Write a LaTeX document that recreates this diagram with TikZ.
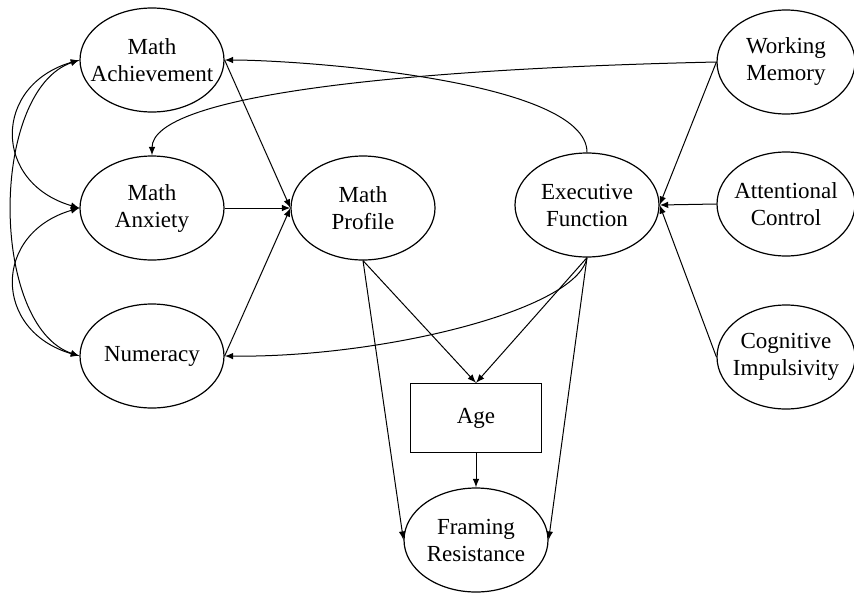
\documentclass[tikz,border=0pt]{standalone}
\usepackage{fontspec}
\setmainfont{Liberation Serif}
\usetikzlibrary{arrows,shapes.geometric}

\begin{document}
\begin{tikzpicture}[x=0.5pt,y=-0.5pt,>=latex,
  latent/.style={draw,ellipse,line width=0.6pt,inner xsep=-6pt,inner ysep=0pt,minimum width=72pt,minimum height=52pt,align=center,font=\fontsize{11.5}{13.5}\selectfont},
  observed/.style={draw,rectangle,line width=0.6pt,minimum width=65.5pt,minimum height=34.5pt,font=\fontsize{11.5}{13.5}\selectfont},
  reg/.style={->,line width=0.5pt},
  cov/.style={<->,line width=0.5pt}]
\useasboundingbox (0,0) rectangle (854,594);

\node[latent] (MA) at (152,60) {Math\\Achievement};
\node[latent] (MAx) at (152,208) {Math\\Anxiety};
\node[latent] (Num) at (152,356) {Numeracy};
\node[latent] (MP) at (363,208) {Math\\Profile};
\node[latent] (EF) at (587,205) {Executive\\Function};
\node[latent,minimum width=69pt] (WM) at (786,62) {Working\\Memory};
\node[latent,minimum width=69pt] (AC) at (786,204) {Attentional\\Control};
\node[latent,minimum width=69pt] (CI) at (786,357) {Cognitive\\Impulsivity};
\node[observed] (Age) at (476,418) {Age};
\node[latent] (FR) at (476,540) {Framing\\Resistance};

\draw[reg] (EF.north) to[out=90,in=0,looseness=0.5] (MA.east);
\draw[reg] (WM.west) .. controls +(-317,7) and +(0,-60) .. (MAx.north);
\draw[reg] (MA.east) -- (MP.west);
\draw[reg] (MAx.east) -- (MP.west);
\draw[reg] (Num.east) -- (MP.west);
\draw[reg] (WM.west) -- (EF.east);
\draw[reg] (AC.west) -- (EF.east);
\draw[reg] (CI.west) -- (EF.east);
\draw[reg] (EF.south) .. controls +(-10,53) and +(155,2) .. (Num.east);
\draw[reg] (MP.south) -- (Age.north);
\draw[reg] (MP.south) -- (FR.west);
\draw[reg] (EF.south) -- (Age.north);
\draw[reg] (EF.south) -- (FR.east);
\draw[reg] (Age.south) -- (FR.north);

\draw[cov] (MA.west) .. controls +(-87,25) and +(-87,-25) .. (MAx.west);
\draw[cov] (MAx.west) .. controls +(-87,25) and +(-87,-25) .. (Num.west);
\draw[cov] (MA.west) .. controls +(-90,30) and +(-90,-30) .. (Num.west);

\end{tikzpicture}
\end{document}
